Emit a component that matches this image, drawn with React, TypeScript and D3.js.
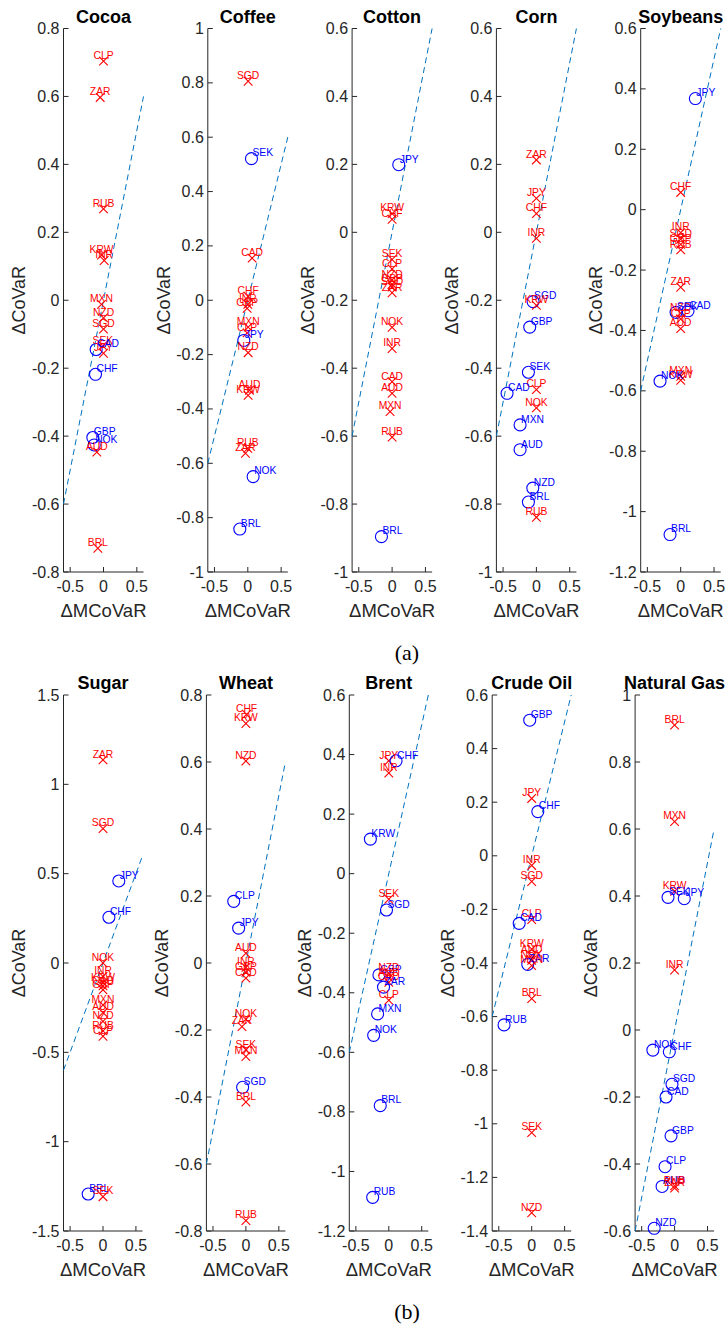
import React from "react";
import * as d3 from "d3";

// [currency, ΔMCoVaR, ΔCoVaR, significant (1 = blue circle, 0 = red cross)]
type Pt = [string, number, number, number];

const cocoa: Pt[] = [
  ["CLP", 0, 0.704, 0], ["ZAR", -0.05, 0.597, 0], ["RUB", 0, 0.269, 0],
  ["KRW", -0.03, 0.133, 0], ["INR", 0.01, 0.117, 0], ["MXN", -0.03, -0.012, 0],
  ["NZD", 0, -0.052, 0], ["SGD", 0, -0.085, 0], ["SEK", -0.01, -0.134, 0],
  ["JPY", 0, -0.156, 0], ["CAD", -0.11, -0.145, 1], ["CHF", -0.12, -0.218, 1],
  ["GBP", -0.16, -0.404, 1], ["NOK", -0.14, -0.426, 1], ["AUD", -0.1, -0.447, 0],
  ["BRL", -0.085, -0.73, 0],
];
const coffee: Pt[] = [
  ["SGD", 0.005, 0.806, 0], ["SEK", 0.055, 0.521, 1], ["CAD", 0.065, 0.155, 0],
  ["CHF", 0.005, 0.014, 0], ["INR", 0, -0.015, 0], ["GBP", -0.01, -0.03, 0],
  ["MXN", 0.005, -0.099, 0], ["CLP", -0.01, -0.12, 0], ["JPY", -0.06, -0.148, 1],
  ["NZD", 0.005, -0.193, 0], ["AUD", 0.025, -0.331, 0], ["KRW", 0.005, -0.35, 0],
  ["RUB", 0, -0.545, 0], ["ZAR", -0.035, -0.563, 0], ["NOK", 0.08, -0.649, 1],
  ["BRL", -0.12, -0.842, 1],
];
const cotton: Pt[] = [
  ["JPY", 0.1, 0.199, 1], ["KRW", 0, 0.055, 0], ["CHF", 0, 0.038, 0],
  ["SEK", 0, -0.08, 0], ["CLP", 0, -0.108, 0], ["NZD", 0, -0.14, 0],
  ["GBP", 0, -0.153, 0], ["SGD", 0, -0.161, 0], ["ZAR", 0, -0.178, 0],
  ["NOK", 0, -0.28, 0], ["INR", 0, -0.342, 0], ["CAD", 0, -0.44, 0],
  ["AUD", 0, -0.474, 0], ["MXN", -0.03, -0.528, 0], ["RUB", 0, -0.603, 0],
  ["BRL", -0.16, -0.896, 1],
];
const corn: Pt[] = [
  ["ZAR", 0, 0.213, 0], ["JPY", 0, 0.1, 0], ["CHF", 0, 0.055, 0],
  ["INR", 0, -0.018, 0], ["SGD", -0.05, -0.204, 1], ["KRW", 0, -0.215, 0],
  ["GBP", -0.1, -0.279, 1], ["SEK", -0.12, -0.412, 1], ["CLP", 0, -0.463, 0],
  ["CAD", -0.44, -0.474, 1], ["NOK", 0, -0.517, 0], ["MXN", -0.245, -0.567, 1],
  ["AUD", -0.245, -0.64, 1], ["NZD", -0.054, -0.753, 1], ["BRL", -0.12, -0.794, 1],
  ["RUB", 0, -0.839, 0],
];
const soybeans: Pt[] = [
  ["JPY", 0.22, 0.368, 1], ["CHF", 0, 0.057, 0], ["INR", 0, -0.076, 0],
  ["SGD", 0, -0.098, 0], ["GBP", 0, -0.115, 0], ["RUB", 0, -0.133, 0],
  ["ZAR", 0, -0.257, 0], ["NZD", 0, -0.343, 0], ["SEK", -0.07, -0.34, 1],
  ["CAD", 0.11, -0.335, 1], ["CLP", 0, -0.362, 0], ["AUD", 0, -0.394, 0],
  ["MXN", 0, -0.552, 0], ["KRW", 0, -0.565, 0], ["NOK", -0.31, -0.568, 1],
  ["BRL", -0.16, -1.076, 1],
];
const sugar: Pt[] = [
  ["ZAR", 0, 1.137, 0], ["SGD", 0, 0.752, 0], ["JPY", 0.24, 0.459, 1],
  ["CHF", 0.09, 0.256, 1], ["NOK", 0, 0.0, 0], ["INR", 0, -0.075, 0],
  ["KRW", 0, -0.111, 0], ["CAD", 0, -0.128, 0], ["GBP", 0, -0.15, 0],
  ["MXN", 0, -0.235, 0], ["AUD", 0, -0.278, 0], ["NZD", 0, -0.327, 0],
  ["RUB", 0, -0.38, 0], ["CLP", 0, -0.41, 0], ["BRL", -0.225, -1.293, 1],
  ["SEK", 0, -1.308, 0],
];
const wheat: Pt[] = [
  ["CHF", 0.01, 0.742, 0], ["KRW", 0, 0.715, 0], ["NZD", 0, 0.603, 0],
  ["CLP", -0.185, 0.184, 1], ["JPY", -0.11, 0.104, 1], ["AUD", 0, 0.029, 0],
  ["INR", 0, -0.013, 0], ["GBP", 0, -0.028, 0], ["CAD", 0, -0.045, 0],
  ["NOK", 0, -0.168, 0], ["ZAR", -0.06, -0.19, 0], ["SEK", 0, -0.259, 0],
  ["MXN", 0, -0.279, 0], ["SGD", -0.05, -0.371, 1], ["BRL", 0, -0.415, 0],
  ["RUB", 0, -0.769, 0],
];
const brent: Pt[] = [
  ["JPY", 0, 0.379, 0], ["CHF", 0.11, 0.379, 1], ["INR", 0, 0.338, 0],
  ["KRW", -0.28, 0.116, 1], ["SEK", 0, -0.086, 0], ["SGD", -0.035, -0.122, 1],
  ["GBP", -0.15, -0.34, 1], ["NZD", 0, -0.335, 0], ["AUD", 0, -0.35, 0],
  ["CAD", 0, -0.365, 0], ["ZAR", -0.08, -0.381, 1], ["CLP", 0, -0.425, 0],
  ["MXN", -0.17, -0.471, 1], ["NOK", -0.23, -0.543, 1], ["BRL", -0.13, -0.779, 1],
  ["RUB", -0.245, -1.087, 1],
];
const crudeOil: Pt[] = [
  ["GBP", -0.03, 0.506, 1], ["JPY", 0, 0.214, 0], ["CHF", 0.093, 0.165, 1],
  ["INR", 0, -0.036, 0], ["SGD", 0, -0.096, 0], ["CLP", 0, -0.238, 0],
  ["CAD", -0.19, -0.252, 1], ["KRW", 0, -0.348, 0], ["AUD", 0, -0.372, 0],
  ["NOK", 0, -0.39, 0], ["ZAR", -0.06, -0.405, 1], ["MXN", 0, -0.41, 0],
  ["BRL", 0, -0.533, 0], ["RUB", -0.42, -0.631, 1], ["SEK", 0, -1.033, 0],
  ["NZD", 0, -1.332, 0],
];
const naturalGas: Pt[] = [
  ["BRL", 0, 0.91, 0], ["MXN", 0, 0.622, 0], ["KRW", 0, 0.414, 0],
  ["SEK", -0.1, 0.396, 1], ["JPY", 0.147, 0.392, 1], ["INR", 0, 0.179, 0],
  ["NOK", -0.33, -0.06, 1], ["CHF", -0.08, -0.065, 1], ["SGD", -0.04, -0.162, 1],
  ["CAD", -0.13, -0.2, 1], ["GBP", -0.054, -0.316, 1], ["CLP", -0.145, -0.408, 1],
  ["AUD", -0.19, -0.467, 1], ["RUB", 0, -0.465, 0], ["ZAR", 0, -0.472, 0],
  ["NZD", -0.31, -0.592, 1],
];

const topTitles = ["Cocoa", "Coffee", "Cotton", "Corn", "Soybeans"];
const bottomTitles = ["Sugar", "Wheat", "Brent", "Crude Oil", "Natural Gas"];
const topData = [cocoa, coffee, cotton, corn, soybeans];
const bottomData = [sugar, wheat, brent, crudeOil, naturalGas];
const topYDomains: [number, number][] = [[-0.8, 0.8], [-1, 1], [-1, 0.6], [-1, 0.6], [-1.2, 0.6]];
const bottomYDomains: [number, number][] = [[-1.5, 1.5], [-0.8, 0.8], [-1.2, 0.6], [-1.4, 0.6], [-0.6, 1]];
const topYSteps = [0.2, 0.2, 0.2, 0.2, 0.2];
const bottomYSteps = [0.5, 0.2, 0.2, 0.2, 0.2];
const xDomain: [number, number] = [-0.6, 0.6];
const xTicks = [-0.5, 0, 0.5];
const refLine = [-0.6, 0.6];
const rowLabels = ["(a)", "(b)"];
const xLabel = "\u0394MCoVaR";
const yLabel = "\u0394CoVaR";

const SANS = "'Liberation Sans', Arial, Helvetica, sans-serif";
const AX = "#262626";
const RED = "#ff0000";
const BLUE = "#0000ff";
const LINE = "#0072bd";

const fmt = (v: number) => {
  const r = Math.round(v * 10) / 10;
  return r === 0 ? "0" : String(r);
};

type PanelProps = {
  title: string;
  data: Pt[];
  yDomain: [number, number];
  yStep: number;
  left: number;
  width: number;
  top: number;
  bottom: number;
};

function Panel({ title, data, yDomain, yStep, left, width, top, bottom }: PanelProps) {
  const x = d3.scaleLinear().domain(xDomain).range([left, left + width]);
  const y = d3.scaleLinear().domain(yDomain).range([bottom, top]);
  const yTicks = d3.range(yDomain[0], yDomain[1] + yStep / 2, yStep).map((v) => Math.round(v * 10) / 10);
  const line = d3.line<number>().x((v) => x(v)).y((v) => y(v));
  const cx = left + width / 2;
  const tk = 5;
  return (
    <g>
      <text x={cx} y={top - 6} textAnchor="middle" fontFamily={SANS} fontWeight="bold" fontSize={18} fill="#000">
        {title}
      </text>
      {/* axes */}
      <line x1={left} x2={left} y1={top} y2={bottom} stroke={AX} strokeWidth={1} />
      <line x1={left} x2={left + width} y1={bottom} y2={bottom} stroke={AX} strokeWidth={1} />
      {yTicks.map((v) => (
        <g key={"y" + v}>
          <line x1={left} x2={left + tk} y1={y(v)} y2={y(v)} stroke={AX} strokeWidth={1} />
          <text x={left - 4} y={y(v) + 5.5} textAnchor="end" fontFamily={SANS} fontSize={16} fill={AX}>
            {fmt(v)}
          </text>
        </g>
      ))}
      {xTicks.map((v) => (
        <g key={"x" + v}>
          <line x1={x(v)} x2={x(v)} y1={bottom} y2={bottom - tk} stroke={AX} strokeWidth={1} />
          <text x={x(v)} y={bottom + 20} textAnchor="middle" fontFamily={SANS} fontSize={16} fill={AX}>
            {fmt(v)}
          </text>
        </g>
      ))}
      <text x={cx} y={bottom + 45} textAnchor="middle" fontFamily={SANS} fontSize={18.5} fill={AX}>
        {xLabel}
      </text>
      <text
        transform={`translate(${left - 43},${(top + bottom) / 2}) rotate(-90)`}
        textAnchor="middle"
        dominantBaseline="middle"
        fontFamily={SANS}
        fontSize={18}
        fill={AX}
      >
        {yLabel}
      </text>
      {/* 45-degree reference */}
      <path d={line(refLine) || ""} fill="none" stroke={LINE} strokeWidth={1} strokeDasharray="6,4" />
      {/* markers */}
      {data.map(([code, mx, my, sig]) => {
        const px = x(mx);
        const py = y(my);
        return sig ? (
          <circle key={"m" + code} cx={px} cy={py} r={6} fill="none" stroke={BLUE} strokeWidth={1.1} />
        ) : (
          <g key={"m" + code} stroke={RED} strokeWidth={1.1}>
            <line x1={px - 4.3} y1={py - 4.3} x2={px + 4.3} y2={py + 4.3} />
            <line x1={px - 4.3} y1={py + 4.3} x2={px + 4.3} y2={py - 4.3} />
          </g>
        );
      })}
      {data.map(([code, mx, my, sig]) => {
        const px = x(mx);
        const py = y(my);
        return (
          <text
            key={"t" + code}
            x={sig ? px + 1 : px}
            y={py - 2.2}
            textAnchor={sig ? "start" : "middle"}
            fontFamily={SANS}
            fontSize={10.3}
            fill={sig ? BLUE : RED}
          >
            {code}
          </text>
        );
      })}
    </g>
  );
}

export default function App() {
  const top = { top: 28.5, bottom: 572, left0: 63.5, dx: 144.3, width: 80 };
  const bot = { top: 695, bottom: 1231, left0: 63.5, dx: 142.9, width: 79 };
  return (
    <svg
      width={725}
      height={1329}
      viewBox="0 0 725 1329"
      style={{ position: "absolute", left: 0, top: 0, background: "#fff" }}
    >
      <rect x={0} y={0} width={725} height={1329} fill="#fff" />
      {topTitles.map((t, i) => (
        <Panel
          key={t}
          title={t}
          data={topData[i]}
          yDomain={topYDomains[i]}
          yStep={topYSteps[i]}
          left={top.left0 + top.dx * i}
          width={top.width}
          top={top.top}
          bottom={top.bottom}
        />
      ))}
      {bottomTitles.map((t, i) => (
        <Panel
          key={t}
          title={t}
          data={bottomData[i]}
          yDomain={bottomYDomains[i]}
          yStep={bottomYSteps[i]}
          left={bot.left0 + bot.dx * i}
          width={bot.width}
          top={bot.top}
          bottom={bot.bottom}
        />
      ))}
      <text x={407} y={660} textAnchor="middle" fontFamily="'Liberation Serif', 'DejaVu Serif', serif" fontSize={22} fill="#000">
        {rowLabels[0]}
      </text>
      <text x={407} y={1319} textAnchor="middle" fontFamily="'Liberation Serif', 'DejaVu Serif', serif" fontSize={22} fill="#000">
        {rowLabels[1]}
      </text>
    </svg>
  );
}
